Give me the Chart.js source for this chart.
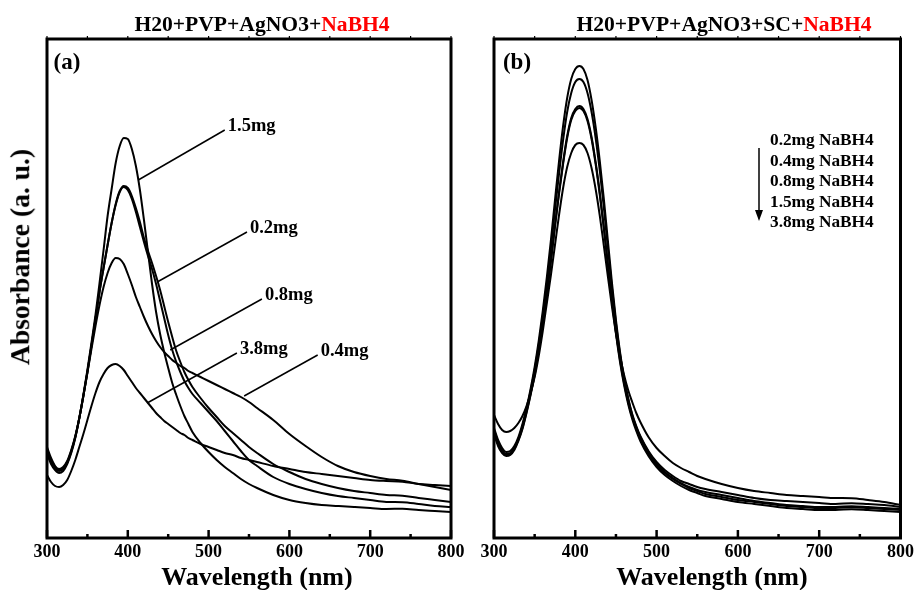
<!DOCTYPE html>
<html>
<head>
<meta charset="utf-8">
<script src="https://cdn.jsdelivr.net/npm/chart.js@4.4.1/dist/chart.umd.min.js"></script>
<style>
  html, body { margin: 0; padding: 0; background: #fff; }
  #wrap { position: relative; width: 918px; height: 590px; overflow: hidden; background: #fff; }
  canvas { position: absolute; top: 0; }
  #cvA { left: 0; }
  #cvB { left: 470px; }
  .txt { position: absolute; font-family: "Liberation Serif", "Times New Roman", serif; font-weight: bold;
         color: #000; white-space: nowrap; line-height: 1; transform: translate(-50%, -50%); }
  .red { color: #ff0000; }
  #legendB { position: absolute; left: 770px; top: 130px; font-family: "Liberation Serif", "Times New Roman", serif;
             font-weight: bold; font-size: 17.3px; line-height: 20.5px; white-space: nowrap; }
  #arrowB { position: absolute; left: 752px; top: 144px; }
</style>
</head>
<body>
<div id="wrap">
  <canvas id="cvA" width="470" height="590"></canvas>
  <canvas id="cvB" width="448" height="590"></canvas>

  <div class="txt" style="left:262px; top:25px; font-size:21.6px;">H20+PVP+AgNO3+<span class="red">NaBH4</span></div>
  <div class="txt" style="left:724px; top:25px; font-size:21.6px;">H20+PVP+AgNO3+SC+<span class="red">NaBH4</span></div>
  <div class="txt" style="left:67px; top:61px; font-size:23px;">(a)</div>
  <div class="txt" style="left:517px; top:61px; font-size:23px;">(b)</div>
  <div class="txt" style="left:20px; top:257px; font-size:27.6px; transform: translate(-50%, -50%) rotate(-90deg);">Absorbance (a. u.)</div>
  <div class="txt" style="left:257px; top:577px; font-size:26px;">Wavelength (nm)</div>
  <div class="txt" style="left:712px; top:577px; font-size:26px;">Wavelength (nm)</div>

  <div id="legendB"></div>
  <svg id="arrowB" width="14" height="80" viewBox="0 0 14 80">
    <line x1="7" y1="4" x2="7" y2="68" stroke="#000" stroke-width="1.5"/>
    <polygon points="3,66 11,66 7,77" fill="#000"/>
  </svg>
</div>

<script>
// Wavelength grid (nm) shared by every spectrum
const WAVELENGTH = [300,305,310,315,320,325,330,335,340,345,350,355,360,365,370,375,380,385,390,395,
  400,405,410,415,420,425,430,435,440,445,450,455,460,465,470,475,480,
  490,500,510,520,530,540,550,560,
  580,600,620,640,660,680,700,720,740,760,780,800];

// (a) H2O + PVP + AgNO3 + NaBH4 — absorbance (a.u.)
const A_02MG = [0.89,0.78,0.71,0.68,0.70,0.76,0.87,1.01,1.20,1.42,1.66,1.92,2.19,2.46,2.70,2.93,3.15,3.34,3.47,3.52,
  3.50,3.42,3.30,3.16,3.00,2.87,2.75,2.62,2.48,2.32,2.16,2.01,1.87,1.76,1.66,1.58,1.51,
  1.40,1.30,1.21,1.12,1.05,0.98,0.91,0.85,
  0.74,0.66,0.59,0.54,0.50,0.47,0.45,0.43,0.423,0.40,0.38,0.36];
const A_04MG = [0.91,0.80,0.72,0.69,0.71,0.77,0.88,1.02,1.20,1.42,1.65,1.89,2.12,2.33,2.51,2.65,2.75,2.80,2.79,2.74,
  2.64,2.53,2.41,2.31,2.21,2.12,2.04,1.97,1.91,1.86,1.82,1.78,1.75,1.72,1.70,1.67,1.65,
  1.61,1.57,1.53,1.49,1.45,1.41,1.36,1.30,
  1.18,1.04,0.92,0.81,0.72,0.66,0.62,0.59,0.573,0.54,0.51,0.48];
const A_08MG = [0.87,0.76,0.70,0.67,0.69,0.75,0.86,1.01,1.20,1.42,1.66,1.92,2.19,2.46,2.70,2.93,3.15,3.33,3.46,3.51,
  3.48,3.39,3.26,3.11,2.96,2.82,2.69,2.54,2.37,2.20,2.03,1.88,1.76,1.66,1.57,1.50,1.44,
  1.35,1.26,1.17,1.07,0.97,0.87,0.78,0.72,
  0.61,0.54,0.49,0.45,0.42,0.40,0.38,0.36,0.358,0.34,0.32,0.31];
const A_15MG = [0.84,0.74,0.68,0.65,0.67,0.74,0.85,1.00,1.20,1.43,1.68,1.95,2.23,2.55,2.88,3.22,3.49,3.75,3.92,4.00,
  3.99,3.89,3.72,3.48,3.18,2.86,2.54,2.26,2.04,1.86,1.70,1.55,1.43,1.32,1.22,1.14,1.06,
  0.95,0.86,0.78,0.71,0.65,0.59,0.54,0.50,
  0.43,0.38,0.35,0.33,0.32,0.31,0.30,0.29,0.293,0.28,0.27,0.26];
const A_38MG = [0.63,0.56,0.52,0.51,0.53,0.58,0.67,0.78,0.91,1.04,1.18,1.32,1.45,1.56,1.64,1.70,1.73,1.74,1.72,1.68,
  1.62,1.56,1.50,1.45,1.40,1.35,1.30,1.25,1.21,1.17,1.14,1.11,1.08,1.05,1.03,1.00,0.98,
  0.94,0.91,0.88,0.85,0.83,0.80,0.78,0.76,
  0.72,0.69,0.66,0.64,0.62,0.60,0.58,0.57,0.563,0.54,0.53,0.52];

// (b) H2O + PVP + AgNO3 + SC + NaBH4 — absorbance (a.u.)
const B_02MG = [1.10,0.98,0.90,0.86,0.87,0.92,1.01,1.14,1.30,1.49,1.71,1.97,2.27,2.61,2.98,3.38,3.77,4.12,4.40,4.59,
  4.69,4.72,4.69,4.58,4.38,4.11,3.78,3.40,2.98,2.56,2.18,1.86,1.60,1.40,1.24,1.12,1.02,
  0.87,0.76,0.68,0.62,0.57,0.54,0.51,0.49,
  0.46,0.43,0.40,0.38,0.37,0.36,0.35,0.34,0.348,0.34,0.33,0.31];
const B_04MG = [1.08,0.96,0.88,0.84,0.85,0.90,0.99,1.12,1.28,1.47,1.68,1.93,2.22,2.54,2.90,3.28,3.64,3.98,4.26,4.45,
  4.56,4.59,4.56,4.45,4.26,4.00,3.68,3.31,2.91,2.51,2.15,1.84,1.59,1.39,1.23,1.11,1.01,
  0.86,0.75,0.66,0.60,0.55,0.51,0.48,0.46,
  0.43,0.40,0.37,0.35,0.33,0.32,0.31,0.31,0.318,0.31,0.30,0.29];
const B_08MG = [1.06,0.94,0.86,0.83,0.84,0.89,0.98,1.10,1.26,1.44,1.64,1.88,2.15,2.45,2.78,3.13,3.46,3.76,4.02,4.20,
  4.29,4.32,4.29,4.19,4.01,3.76,3.46,3.12,2.75,2.39,2.06,1.78,1.55,1.36,1.21,1.09,0.99,
  0.84,0.73,0.65,0.59,0.54,0.50,0.47,0.44,
  0.41,0.38,0.36,0.34,0.32,0.31,0.30,0.30,0.308,0.30,0.29,0.28];
const B_15MG = [1.04,0.92,0.85,0.82,0.83,0.88,0.97,1.09,1.25,1.43,1.63,1.87,2.13,2.43,2.76,3.11,3.44,3.74,4.00,4.18,
  4.27,4.30,4.27,4.17,3.99,3.74,3.44,3.10,2.73,2.37,2.04,1.76,1.53,1.34,1.19,1.07,0.97,
  0.82,0.71,0.63,0.57,0.52,0.48,0.45,0.42,
  0.39,0.36,0.34,0.32,0.30,0.29,0.28,0.28,0.288,0.28,0.27,0.26];
const B_38MG = [1.23,1.14,1.08,1.06,1.07,1.10,1.15,1.22,1.32,1.45,1.61,1.82,2.07,2.35,2.63,2.93,3.23,3.50,3.71,3.85,
  3.93,3.95,3.93,3.85,3.70,3.49,3.23,2.93,2.62,2.32,2.05,1.82,1.63,1.48,1.36,1.25,1.16,
  1.01,0.90,0.82,0.75,0.70,0.66,0.62,0.59,
  0.54,0.50,0.47,0.45,0.43,0.42,0.41,0.40,0.398,0.38,0.36,0.33];

// Axis settings
const X_MIN = 300, X_MAX = 800, X_STEP = 100, X_MINOR = 50;
const Y_MIN = 0, Y_MAX = 4.99;

// Leader-line labels in panel (a): from a point on a curve to the label (nm, a.u.)
const LABELS_A = [
  { text: '1.5mg', from: [413, 3.58], to: [520, 4.08] },
  { text: '0.2mg', from: [436.4, 2.56], to: [547.5, 3.06] },
  { text: '0.8mg', from: [452.5, 1.88], to: [566, 2.39] },
  { text: '3.8mg', from: [424, 1.35], to: [535, 1.85] },
  { text: '0.4mg', from: [544, 1.42], to: [635, 1.83] }
];

// Legend lines in panel (b), top to bottom
const LEGEND_B = ['0.2mg NaBH4', '0.4mg NaBH4', '0.8mg NaBH4', '1.5mg NaBH4', '3.8mg NaBH4'];

document.getElementById('legendB').innerHTML = LEGEND_B.map(t => '<div>' + t + '</div>').join('');

const SERIF = '"Liberation Serif", "Times New Roman", serif';

function series(values, label) {
  return {
    label,
    data: WAVELENGTH.map((w, i) => ({ x: w, y: values[i] })),
    borderColor: '#000',
    borderWidth: 2,
    pointRadius: 0,
    fill: false,
    cubicInterpolationMode: 'monotone'
  };
}

// Thick frame plus inward ticks on the bottom edge and small ticks on the top edge
const framePlugin = {
  id: 'frame',
  afterDatasetsDraw(chart) {
    const { ctx, chartArea: a, scales: { x } } = chart;
    ctx.save();
    ctx.strokeStyle = '#000';
    for (let v = X_MIN; v <= X_MAX; v += X_MINOR) {
      const px = x.getPixelForValue(v);
      const major = (v - X_MIN) % X_STEP === 0;
      ctx.lineWidth = 2.5;
      ctx.beginPath();
      ctx.moveTo(px, a.bottom);
      ctx.lineTo(px, a.bottom - (major ? 8 : 4));
      ctx.stroke();
      ctx.lineWidth = 1.2;
      ctx.beginPath();
      ctx.moveTo(px, a.top);
      ctx.lineTo(px, a.top - 3);
      ctx.stroke();
    }
    ctx.lineWidth = 3;
    ctx.strokeRect(a.left, a.top, a.right - a.left, a.bottom - a.top);
    ctx.restore();
  }
};

// Leader lines with their labels
const leaderPlugin = {
  id: 'leaders',
  afterDatasetsDraw(chart, args, opts) {
    const items = opts.items || [];
    const { ctx, scales: { x, y } } = chart;
    ctx.save();
    ctx.strokeStyle = '#000';
    ctx.fillStyle = '#000';
    ctx.lineWidth = 1.5;
    ctx.font = 'bold 18.5px ' + SERIF;
    ctx.textBaseline = 'middle';
    ctx.textAlign = 'left';
    items.forEach(it => {
      const x0 = x.getPixelForValue(it.from[0]), y0 = y.getPixelForValue(it.from[1]);
      const x1 = x.getPixelForValue(it.to[0]), y1 = y.getPixelForValue(it.to[1]);
      ctx.beginPath();
      ctx.moveTo(x0, y0);
      ctx.lineTo(x1, y1);
      ctx.stroke();
      ctx.fillText(it.text, x1 + 3, y1 - 4);
    });
    ctx.restore();
  }
};

function makeChart(canvasId, datasets, yAxisWidth, rightPad, leaders) {
  return new Chart(document.getElementById(canvasId), {
    type: 'line',
    data: { datasets },
    options: {
      responsive: false,
      animation: false,
      events: [],
      layout: { padding: { top: 39, right: rightPad, left: 0, bottom: 0 } },
      plugins: {
        legend: { display: false },
        tooltip: { enabled: false },
        title: { display: false },
        leaders: { items: leaders }
      },
      scales: {
        x: {
          type: 'linear',
          min: X_MIN, max: X_MAX,
          grid: { display: false, drawTicks: false },
          border: { display: false },
          ticks: {
            stepSize: X_STEP,
            maxRotation: 0,
            autoSkip: false,
            padding: 4,
            color: '#000',
            font: { family: SERIF, size: 18, weight: 'bold' }
          },
          afterFit(s) { s.height = 52; }
        },
        y: {
          type: 'linear',
          min: Y_MIN, max: Y_MAX,
          grid: { display: false, drawTicks: false },
          border: { display: false },
          ticks: { display: false },
          afterFit(s) { s.width = yAxisWidth; }
        }
      }
    },
    plugins: [framePlugin, leaderPlugin]
  });
}

makeChart('cvA', [
  series(A_02MG, '0.2mg'),
  series(A_04MG, '0.4mg'),
  series(A_08MG, '0.8mg'),
  series(A_15MG, '1.5mg'),
  series(A_38MG, '3.8mg')
], 47, 19, LABELS_A);

makeChart('cvB', [
  series(B_02MG, '0.2mg NaBH4'),
  series(B_04MG, '0.4mg NaBH4'),
  series(B_08MG, '0.8mg NaBH4'),
  series(B_15MG, '1.5mg NaBH4'),
  series(B_38MG, '3.8mg NaBH4')
], 24, 15, []);
</script>
</body>
</html>
